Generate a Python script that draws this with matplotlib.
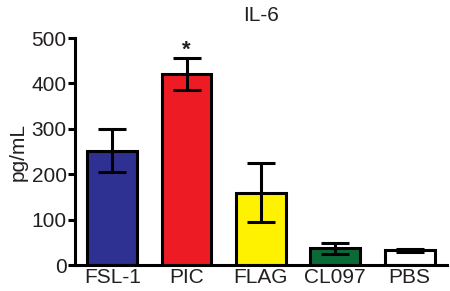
import numpy as np
import matplotlib.pyplot as plt

plt.rcParams['font.family'] = ['Liberation Sans', 'DejaVu Sans']

groups = ["FSL-1", "PIC", "FLAG", "CL097", "PBS"]
values = [252, 421, 159, 37, 32]
errors = [48, 35, 65, 12, 3]
colors = ["#2e3192", "#ed1c24", "#fff200", "#0b6b38", "#ffffff"]
yticks = [0, 100, 200, 300, 400, 500]

txt = "#231f20"

fig = plt.figure(figsize=(4.5, 2.91), dpi=100)
ax = fig.add_axes([0.1667, 0.0893, 0.8263, 0.780])

x = np.arange(len(groups))
ax.bar(x, values, width=0.67, color=colors, edgecolor="black", linewidth=2.2, zorder=2)
ax.errorbar(x, values, yerr=errors, fmt="none", ecolor="black", elinewidth=2.2,
            capsize=10, capthick=2.2, zorder=3)

# significance mark over PIC
ax.text(x[1], values[1] + errors[1] - 6, "*", ha="center", va="bottom",
        fontsize=16, color=txt, fontweight="bold")

ax.set_xlim(-0.5, 4.5)
ax.set_ylim(0, 500)
ax.set_yticks(yticks)
ax.set_xticks(x)
ax.set_xticklabels(groups)

for s in ["top", "right"]:
    ax.spines[s].set_visible(False)
for s in ["left", "bottom"]:
    ax.spines[s].set_linewidth(2.2)

ax.tick_params(axis="y", length=5, width=2.2, labelsize=15, labelcolor=txt, pad=1)
ax.tick_params(axis="x", length=0, labelsize=15, labelcolor=txt, pad=2)

ax.set_ylabel("pg/mL", fontsize=15, color=txt, labelpad=3)
ax.set_title("IL-6", fontsize=15, color=txt, pad=12)

fig.savefig("out.png", dpi=100)
